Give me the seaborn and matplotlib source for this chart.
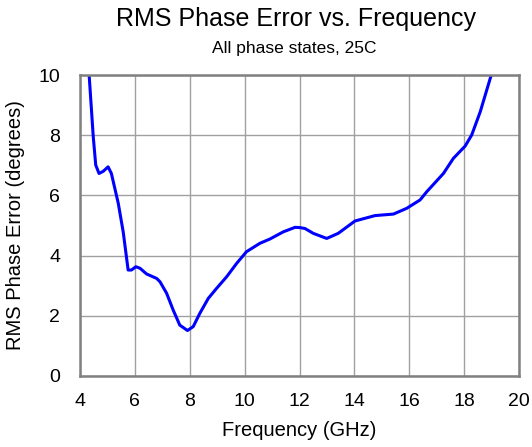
import matplotlib
matplotlib.use("Agg")
import matplotlib.pyplot as plt
import seaborn as sns
import pandas as pd

freq_ghz = [4.30, 4.34, 4.49, 4.58, 4.70, 4.85, 5.03, 5.15, 5.40, 5.58, 5.76, 5.88, 6.04,
            6.19, 6.43, 6.80, 6.92, 7.16, 7.40, 7.64, 7.92, 8.13, 8.37, 8.68, 8.98,
            9.35, 9.71, 10.07, 10.56, 10.92, 11.41, 11.84, 12.02, 12.20, 12.50, 12.99,
            13.41, 14.02, 14.75, 15.42, 15.90, 16.39, 16.63, 17.24, 17.60, 18.03,
            18.27, 18.58, 18.98, 19.02]
rms_err_deg = [10.6, 10.0, 7.95, 7.01, 6.73, 6.80, 6.95, 6.73, 5.74, 4.79, 3.52, 3.52, 3.63,
               3.58, 3.39, 3.24, 3.13, 2.75, 2.19, 1.69, 1.51, 1.64, 2.08, 2.58, 2.91,
               3.30, 3.74, 4.13, 4.41, 4.55, 4.79, 4.94, 4.93, 4.90, 4.74, 4.57,
               4.74, 5.15, 5.33, 5.38, 5.57, 5.85, 6.12, 6.73, 7.23, 7.64,
               8.01, 8.78, 10.0, 10.2]

x_ticks = [4, 6, 8, 10, 12, 14, 16, 18, 20]
y_ticks = [0, 2, 4, 6, 8, 10]

sns.set_theme(style="white")
plt.rcParams['font.family'] = ['Liberation Sans', 'DejaVu Sans']

df = pd.DataFrame({"Frequency": freq_ghz, "Error": rms_err_deg})

fig = plt.figure(figsize=(5.32, 4.47), dpi=100)
ax = fig.add_axes([0.150, 0.159, 0.826, 0.673])
sns.lineplot(data=df, x="Frequency", y="Error", ax=ax, color="#0000ff",
             linewidth=2.2, sort=False)

ax.set_xlim(4, 20)
ax.set_ylim(0, 10)
ax.set_xticks(x_ticks)
ax.set_yticks(y_ticks)
ax.grid(True, color="#a0a0a0", linewidth=1.0)
ax.set_axisbelow(True)
for s in ax.spines.values():
    s.set_color("#808080")
    s.set_linewidth(1.8)
ax.tick_params(axis="both", labelsize=14, colors="black", length=0)
ax.tick_params(axis="x", pad=12)
ax.tick_params(axis="y", pad=14)
ax.set_xlabel("Frequency (GHz)", fontsize=14.5, labelpad=8, color="black")
ax.set_ylabel("RMS Phase Error (degrees)", fontsize=14.5, labelpad=10, color="black")

fig.text(0.557, 0.941, "RMS Phase Error vs. Frequency", ha="center", va="baseline",
         fontsize=18, color="black")
fig.text(0.553, 0.882, "All phase states, 25C", ha="center", va="baseline",
         fontsize=12.5, color="black")

fig.savefig("out.png", dpi=100)
